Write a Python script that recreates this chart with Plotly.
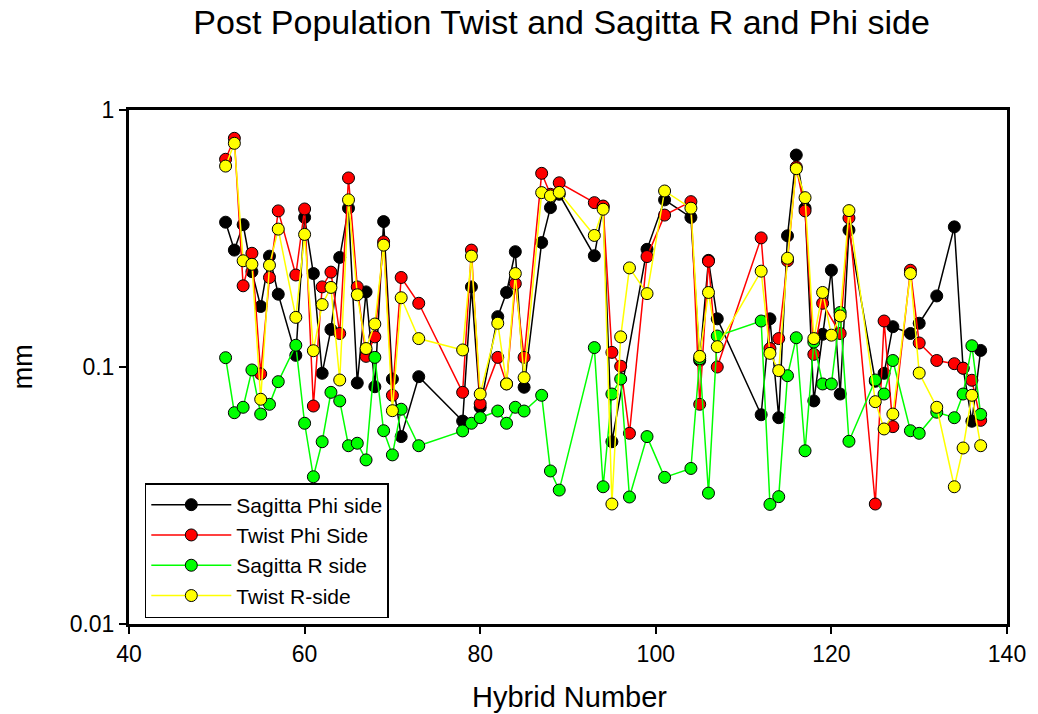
import plotly.graph_objects as go

hybrid = [51, 52, 53, 54, 55, 56, 57, 59, 60, 61, 62, 63, 64, 65, 66, 67, 68, 69, 70, 71, 73,
          78, 79, 80, 82, 83, 84, 85, 87, 88, 89, 93, 94, 95, 96, 97, 99, 101, 104, 105, 106, 107,
          112, 113, 114, 115, 116, 117, 118, 119, 120, 121, 122, 125, 126, 127, 129, 130, 132,
          134, 135, 136, 137]

sagitta_phi = [0.366, 0.285, 0.358, 0.235, 0.172, 0.270, 0.192, 0.111, 0.382, 0.231, 0.0945, 0.140,
               0.267, 0.415, 0.0867, 0.196, 0.0838, 0.368, 0.0898, 0.0536, 0.0917,
               0.0616, 0.205, 0.0697, 0.157, 0.195, 0.281, 0.0834, 0.305, 0.417, 0.47, 0.271, 0.42,
               0.0512, None, None, 0.287, 0.447, 0.382, 0.106, 0.26, 0.154,
               0.0652, 0.154, 0.0635, 0.324, 0.668, 0.415, 0.0738, 0.134, 0.238, 0.0785, 0.341,
               0.088, 0.0945, 0.1435, 0.135, 0.148, 0.189, 0.351, 0.099, 0.0615, 0.116]

twist_phi = [0.643, 0.776, 0.207, 0.277, 0.094, 0.223, 0.405, 0.228, 0.412, 0.0705, 0.205, 0.234,
             0.135, 0.544, 0.205, 0.110, 0.131, 0.307, 0.0776, 0.223, 0.177,
             0.0797, 0.285, 0.072, 0.109, 0.086, 0.211, 0.109, 0.567, 0.47, 0.521, 0.436, 0.423,
             0.114, 0.1007, 0.0552, 0.269, 0.390, 0.440, 0.0716, 0.258, 0.100,
             0.318, 0.118, 0.129, 0.259, 0.60, 0.405, 0.112, 0.177, None, 0.135, 0.38,
             0.0293, 0.151, 0.0586, 0.238, 0.124, 0.106, 0.103, 0.0989, 0.0888, 0.062]

sagitta_r = [0.1087, 0.0664, 0.0697, 0.0974, 0.0656, 0.0716, 0.0877, 0.1215, 0.0604, 0.0374, 0.0512,
             0.0797, 0.0738, 0.0494, 0.0505, 0.0435, 0.109, 0.0565, 0.0455, 0.0685, 0.0494,
             0.0564, 0.0604, 0.0635, 0.0674, 0.0604, 0.0697, 0.0674, 0.0776, 0.0394, 0.0332, 0.119,
             0.0342, 0.0785, 0.0898, 0.0312, 0.0536, 0.0372, 0.0403, 0.1077, 0.0323, 0.132,
             0.151, 0.0292, 0.0313, 0.0925, 0.130, 0.0472, 0.125, 0.0859, 0.0859, 0.163, 0.0514,
             0.089, 0.0785, 0.106, 0.0565, 0.0552, 0.0667, 0.0635, 0.0785, 0.121, 0.0654]

twist_r = [0.605, 0.742, 0.259, 0.251, 0.0749, 0.249, 0.344, 0.156, 0.328, 0.1157, 0.175, 0.204,
           0.089, 0.447, 0.191, 0.118, 0.147, 0.298, 0.0676, 0.186, 0.129,
           0.1165, 0.270, 0.0785, 0.148, 0.0859, 0.231, 0.0909, 0.477, 0.463, 0.478, 0.325, 0.411,
           0.0293, 0.131, 0.243, 0.193, 0.484, 0.415, 0.110, 0.195, 0.120,
           0.236, 0.113, 0.0968, 0.265, 0.591, 0.456, 0.129, 0.195, 0.133, 0.158, 0.406,
           0.0733, 0.0574, 0.0656, 0.231, 0.0947, 0.0697, 0.0342, 0.0484, 0.0776, 0.0494]

series = [
    ("Sagitta Phi side", sagitta_phi, "#000000"),
    ("Twist Phi Side", twist_phi, "#FF0000"),
    ("Sagitta R side", sagitta_r, "#00FF00"),
    ("Twist R-side", twist_r, "#FFFF00"),
]

x_ticks = [40, 60, 80, 100, 120, 140]
y_ticks = [0.01, 0.1, 1]
y_tick_labels = ["0.01", "0.1", "1"]

FONT = "Liberation Sans, Arial, sans-serif"
L, R, T, B = 129, 20, 110, 90
W, H = 1038, 714
PW, PH = W - L - R, H - T - B

fig = go.Figure()
for name, vals, col in series:
    fig.add_trace(go.Scatter(
        x=hybrid, y=vals, name=name, mode="lines+markers",
        connectgaps=True,
        line=dict(color=col, width=1.5),
        marker=dict(symbol="circle", size=12, color=col, line=dict(color="black", width=1)),
    ))

fig.update_layout(
    width=W, height=H,
    paper_bgcolor="white", plot_bgcolor="white",
    margin=dict(l=L, r=R, t=T, b=B),
    font=dict(family=FONT, color="black"),
    title=dict(text="Post Population Twist and Sagitta R and Phi side",
               x=(567 - L) / PW, xref="paper", xanchor="center",
               y=1 - 22 / H, yref="container", yanchor="middle",
               font=dict(size=34, family=FONT, color="black")),
    showlegend=True,
    legend=dict(x=(145 - L) / PW, y=(H - B - 483) / PH, xanchor="left", yanchor="top",
                bgcolor="white", bordercolor="black", borderwidth=1.5,
                font=dict(size=21, family=FONT), itemwidth=80,
                tracegroupgap=0),
)

fig.update_xaxes(range=[40, 140], tickvals=x_ticks, ticks="outside", ticklen=7,
                 tickwidth=1.5, tickcolor="black", showgrid=False, zeroline=False,
                 showline=True, linecolor="black", linewidth=3, mirror=True,
                 tickfont=dict(size=23, family=FONT))
fig.update_yaxes(type="log", range=[-2, 0], tickvals=y_ticks, ticktext=y_tick_labels,
                 ticks="outside", ticklen=7, tickwidth=1.5, tickcolor="black",
                 showgrid=False, zeroline=False,
                 showline=True, linecolor="black", linewidth=3, mirror=True,
                 tickfont=dict(size=23, family=FONT))

fig.add_annotation(text="Hybrid Number", xref="paper", yref="paper",
                   x=(575 - L) / PW, y=-(697 - (H - B)) / PH, xanchor="center", yanchor="middle",
                   showarrow=False, font=dict(size=29, family=FONT))
fig.add_annotation(text="mm", xref="paper", yref="paper",
                   x=-(L - 22) / PW, y=(H - B - 367) / PH, xanchor="center", yanchor="middle",
                   textangle=-90, showarrow=False, font=dict(size=27, family=FONT))

fig.write_html("out.html")
